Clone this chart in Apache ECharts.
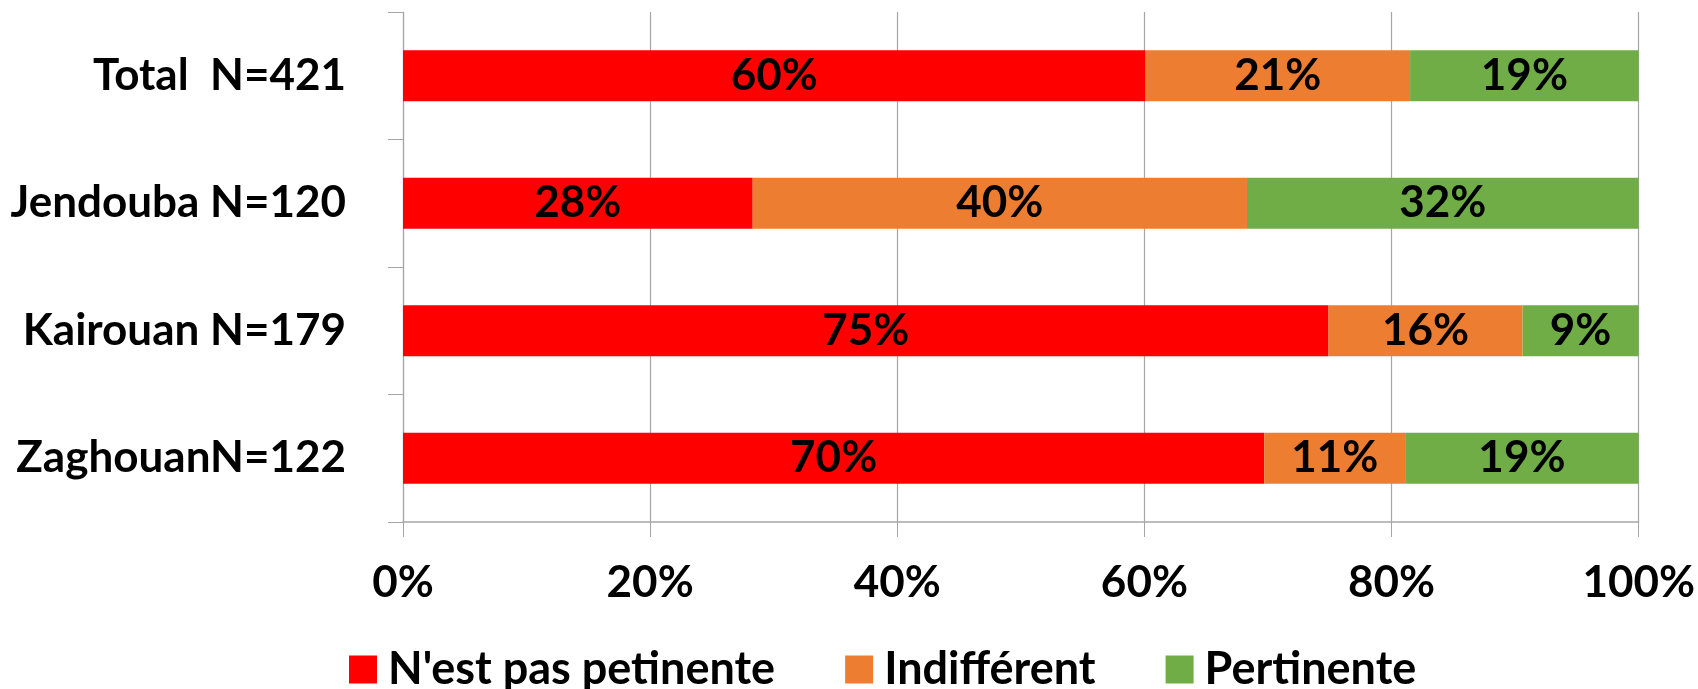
<!DOCTYPE html>
<html>
<head>
<meta charset="utf-8">
<script src="https://cdn.jsdelivr.net/npm/echarts@6/dist/echarts.min.js"></script>
<style>
html, body { margin: 0; padding: 0; background: #fff; }
#chart { width: 1698px; height: 689px; }
</style>
</head>
<body>
<div id="chart"></div>
<script>
// categories, top to bottom
const categories = ['Total  N=421', 'Jendouba N=120', 'Kairouan N=179', 'ZaghouanN=122']
const seriesNames = ["N'est pas petinente", 'Indifférent', 'Pertinente']
// shares in percent
const pasPertinente = [60.1, 28.3, 74.9, 69.7]
const indifferent = [21.4, 40.0, 15.7, 11.4]
const pertinente = [18.5, 31.7, 9.4, 18.9]
const xTicks = [0, 20, 40, 60, 80, 100]

const colors = ['#ff0000', '#ed7d31', '#70ad47']
const font = 'Lato, "Open Sans", sans-serif'
const gray = '#a6a6a6'

let dom = echarts.init(document.getElementById('chart'))
let values = [pasPertinente, indifferent, pertinente]

let option = {
  animation: false,
  textStyle: { fontFamily: font },
  grid: { left: 403, right: 59, top: 12, bottom: 167 },
  legend: {
    data: seriesNames,
    left: 344,
    top: 642,
    icon: 'rect',
    itemWidth: 28,
    itemHeight: 28,
    itemGap: 70,
    textStyle: { fontFamily: font, fontSize: 45, fontWeight: 'bold', color: '#000', padding: [0, 0, 0, 6] }
  },
  xAxis: {
    type: 'value',
    min: xTicks[0],
    max: xTicks[xTicks.length - 1],
    interval: 20,
    axisLine: { show: true, lineStyle: { color: gray, width: 1.5 } },
    axisTick: { show: true, length: 15, lineStyle: { color: gray } },
    splitLine: { show: true, lineStyle: { color: gray, width: 1.2 } },
    axisLabel: {
      formatter: '{value}%',
      margin: 39,
      fontFamily: font,
      fontSize: 44,
      fontWeight: 'bold',
      color: '#000'
    }
  },
  yAxis: {
    type: 'category',
    inverse: true,
    data: categories,
    axisLine: { show: true, lineStyle: { color: gray, width: 1.2 } },
    axisTick: { show: true, length: 15, lineStyle: { color: gray } },
    axisLabel: {
      margin: 57,
      fontFamily: font,
      fontSize: 44,
      fontWeight: 'bold',
      color: '#000'
    }
  },
  series: seriesNames.map((name, i) => ({
    name: name,
    type: 'bar',
    stack: 'total',
    barWidth: 51,
    itemStyle: { color: colors[i] },
    label: {
      show: true,
      position: 'inside',
      formatter: p => Math.round(p.value) + '%',
      fontFamily: font,
      fontSize: 44,
      fontWeight: 'bold',
      color: '#000'
    },
    data: values[i]
  }))
}

dom.setOption(option)
</script>
</body>
</html>
